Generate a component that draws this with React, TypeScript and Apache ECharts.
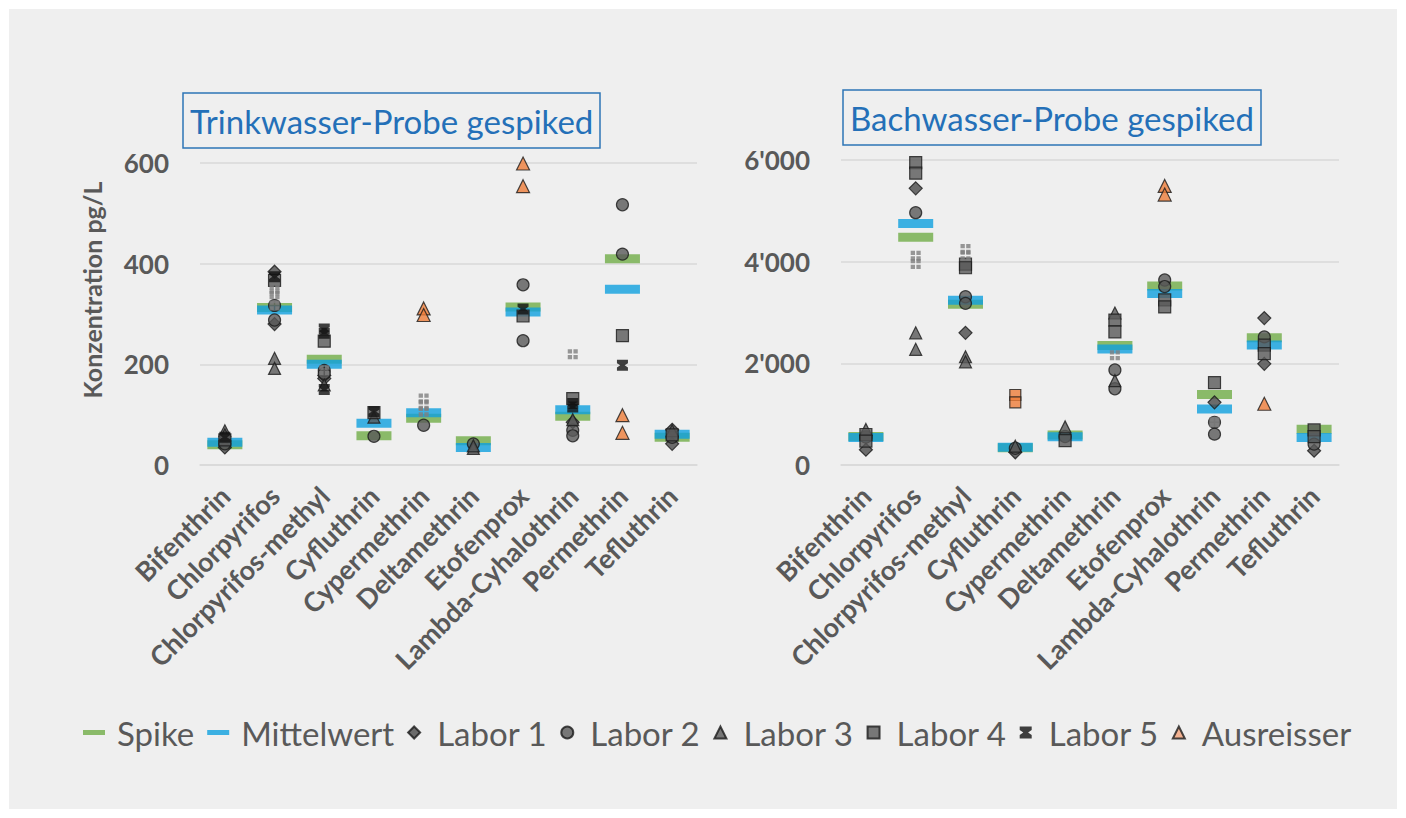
import React, { useEffect, useRef } from "react";
import * as echarts from "echarts";

const categories = [
  "Bifenthrin",
  "Chlorpyrifos",
  "Chlorpyrifos-methyl",
  "Cyfluthrin",
  "Cypermethrin",
  "Deltamethrin",
  "Etofenprox",
  "Lambda-Cyhalothrin",
  "Permethrin",
  "Tefluthrin",
];

const twTicks = [0, 200, 400, 600];
const bwTicks = [0, 2000, 4000, 6000];

// Trinkwasser-Probe (pg/L)
const twSpike = [40, 313, 210, 58, 93, 48, 314, 97, 410, 55];
const twMittelwert = [45, 308, 200, 83, 104, 35, 304, 110, 349, 61];
const twLabor1 = [[35], [384, 280], [172, 178], [], [], [], [], [85], [], [70, 42]];
const twLabor2 = [[42], [317, 288], [188, 182], [57], [79], [42], [358, 247], [69, 58], [517, 419], [55]];
const twLabor3 = [[68, 60], [212, 192], [159], [95], [], [33, 38], [], [90], [], [68]];
const twLabor4 = [[50], [367], [246], [104], [], [], [296], [132], [257], [60]];
const twLabor5 = [[55], [374], [270, 262, 150], [106], [], [], [310], [122, 115], [198], []];
const twLabor5b = [[], [347, 339, 317], [188], [], [132, 119, 106], [], [], [220], [], []];
const twAusreisser = [[], [], [], [], [311, 298], [], [599, 554], [], [99, 64], []];
const twAusreisserForm = ["triangle", "triangle", "triangle", "triangle", "triangle", "triangle", "triangle", "triangle", "triangle", "triangle"];

// Bachwasser-Probe (pg/L)
const bwSpike = [560, 4480, 3160, 340, 590, 2350, 3520, 1385, 2505, 705];
const bwMittelwert = [540, 4750, 3240, 350, 557, 2280, 3376, 1100, 2360, 540];
const bwLabor1 = [[300], [5442], [2600], [250], [], [], [], [1233], [2890, 1990], [280]];
const bwLabor2 = [[550], [4964], [3310, 3180], [330], [560], [1870, 1500], [3640, 3510], [840, 607], [2520], [410]];
const bwLabor3 = [[700], [2600, 2275], [2130, 2030], [370], [750], [2990, 1660], [], [], [], []];
const bwLabor4 = [[600, 470], [5950, 5740], [3950, 3880], [], [480], [2850, 2620], [3250, 3110], [1620], [2360, 2190], [690, 560]];
const bwLabor5 = [[], [], [], [], [], [], [], [], [], []];
const bwLabor5b = [[], [4118, 3954], [4250, 4120], [], [], [2160], [], [840], [], []];
const bwAusreisser = [[], [], [], [1377, 1233], [], [], [5490, 5320], [], [1205], []];
const bwAusreisserForm = ["triangle", "triangle", "triangle", "rect", "triangle", "triangle", "triangle", "triangle", "triangle", "triangle"];

const FONT = "Lato";
const GREY_TEXT = "#595959";
const STAR = "path://M0,0H10V3L7,5L10,7V10H0V7L3,5L0,3Z";
const QUAD = "path://M0,0H4.3V4.3H0Z M5.7,0H10V4.3H5.7Z M0,5.7H4.3V10H0Z M5.7,5.7H10V10H5.7Z";

function flat(vals: number[][]) {
  const out: any[] = [];
  vals.forEach((list, i) => list.forEach((v) => out.push([categories[i], v])));
  return out;
}

function flatForm(vals: number[][], forms: string[]) {
  const out: any[] = [];
  vals.forEach((list, i) =>
    list.forEach((v) => out.push({ value: [categories[i], v], symbol: forms[i], symbolSize: forms[i] === "rect" ? 11 : 13 }))
  );
  return out;
}

function single(vals: number[]) {
  return vals.map((v, i) => [categories[i], v]);
}

const markerStyle = (fill: string) => ({ color: fill, borderColor: "#1a1a1a", borderWidth: 1.2 });

function seriesFor(idx: number, d: any) {
  const base = { type: "scatter", xAxisIndex: idx, yAxisIndex: idx };
  return [
    { ...base, name: "Spike", data: single(d.spike), symbol: "rect", symbolSize: [35, 9], itemStyle: { color: "#70AD47" }, z: 2 },
    { ...base, name: "Mittelwert", data: single(d.mean), symbol: "rect", symbolSize: [35, 9], itemStyle: { color: "#0FA0DE" }, z: 3 },
    { ...base, name: "Labor 1", data: flat(d.l1), symbol: "diamond", symbolSize: 13, itemStyle: markerStyle("#4a4a4a"), z: 4 },
    { ...base, name: "Labor 2", data: flat(d.l2), symbol: "circle", symbolSize: 12, itemStyle: markerStyle("#595959"), z: 4 },
    { ...base, name: "Labor 3", data: flat(d.l3), symbol: "triangle", symbolSize: 12, itemStyle: markerStyle("#595959"), z: 4 },
    { ...base, name: "Labor 4", data: flat(d.l4), symbol: "rect", symbolSize: 12, itemStyle: markerStyle("#595959"), z: 4 },
    { ...base, name: "Labor 5", data: flat(d.l5), symbol: STAR, symbolSize: 11, itemStyle: { color: "#111" }, z: 5 },
    { ...base, name: "Labor 5 Wdh.", data: flat(d.l5b), symbol: QUAD, symbolSize: 10, itemStyle: { color: "#7f7f7f" }, z: 5 },
    { ...base, name: "Ausreisser", data: flatForm(d.out, d.outForm), symbol: "triangle", symbolSize: 13, itemStyle: markerStyle("#EE7D3A"), z: 6 },
  ];
}

const apos = (v: number) => String(v).replace(/\B(?=(\d{3})+(?!\d))/g, "'");

export default function App() {
  const ref = useRef<HTMLDivElement>(null);
  useEffect(() => {
    if (!ref.current) return;
    const chart = echarts.init(ref.current, null, { renderer: "svg" });
    const catAxis = (gridIndex: number) => ({
      type: "category",
      gridIndex,
      data: categories,
      boundaryGap: true,
      axisLine: { lineStyle: { color: "#d9d9d9", width: 1.5 } },
      axisTick: { show: false },
      axisLabel: { rotate: 45, interval: 0, fontSize: 27, fontWeight: "bold", color: GREY_TEXT, fontFamily: FONT, margin: 26 },
    });
    const valAxis = (gridIndex: number, ticks: number[], fmt: (v: number) => string) => ({
      type: "value",
      gridIndex,
      min: ticks[0],
      max: ticks[ticks.length - 1],
      interval: ticks[1] - ticks[0],
      axisLine: { show: false },
      axisTick: { show: false },
      splitLine: { lineStyle: { color: "#d9d9d9", width: 1.5 } },
      axisLabel: { fontSize: 26, fontWeight: "bold", color: GREY_TEXT, fontFamily: FONT, margin: 31, formatter: fmt },
    });
    const legendIcon = {
      bar: "path://M0,0H22V5H0Z",
      diamond: "path://M5,0L10,5L5,10L0,5Z",
      tri: "path://M5,0L10,10L0,10Z",
      square: "path://M0,0H10V10H0Z",
    };
    const titleStyle = { color: "#2470B8", fontSize: 33, fontWeight: "normal", fontFamily: FONT, lineHeight: 37 };
    const option: any = {
      animation: false,
      backgroundColor: "transparent",
      title: [
        {
          text: "Trinkwasser-Probe gespiked",
          left: 183,
          top: 93,
          padding: [9, 7, 9, 7],
          borderColor: "#2E75B6",
          borderWidth: 1.5,
          textStyle: titleStyle,
        },
        {
          text: "Bachwasser-Probe gespiked",
          left: 843,
          top: 90,
          padding: [9, 7, 9, 7],
          borderColor: "#2E75B6",
          borderWidth: 1.5,
          textStyle: titleStyle,
        },
      ],
      graphic: [
        {
          type: "text",
          x: 92,
          y: 290,
          rotation: Math.PI / 2,
          style: {
            text: "Konzentration pg/L",
            fill: GREY_TEXT,
            font: `bold 25px ${FONT}`,
            align: "center",
            verticalAlign: "middle",
          },
        },
      ],
      legend: {
        left: 78,
        top: 711,
        itemWidth: 22,
        itemHeight: 12,
        itemGap: 13,
        textStyle: { fontSize: 33, color: GREY_TEXT, fontFamily: FONT, padding: [0, 0, 0, 7] },
        data: [
          { name: "Spike", icon: legendIcon.bar },
          { name: "Mittelwert", icon: legendIcon.bar },
          { name: "Labor 1", icon: legendIcon.diamond },
          { name: "Labor 2", icon: "circle" },
          { name: "Labor 3", icon: legendIcon.tri },
          { name: "Labor 4", icon: legendIcon.square },
          { name: "Labor 5", icon: STAR },
          { name: "Ausreisser", icon: legendIcon.tri, itemStyle: { color: "#F4A37A" } },
        ],
      },
      grid: [
        { left: 200, top: 163, width: 497, height: 302 },
        { left: 841, top: 160, width: 498, height: 305 },
      ],
      xAxis: [catAxis(0), catAxis(1)],
      yAxis: [valAxis(0, twTicks, (v: number) => String(v)), valAxis(1, bwTicks, apos)],
      series: [
        ...seriesFor(0, {
          spike: twSpike, mean: twMittelwert, l1: twLabor1, l2: twLabor2, l3: twLabor3, l4: twLabor4,
          l5: twLabor5, l5b: twLabor5b, out: twAusreisser, outForm: twAusreisserForm,
        }),
        ...seriesFor(1, {
          spike: bwSpike, mean: bwMittelwert, l1: bwLabor1, l2: bwLabor2, l3: bwLabor3, l4: bwLabor4,
          l5: bwLabor5, l5b: bwLabor5b, out: bwAusreisser, outForm: bwAusreisserForm,
        }),
      ],
    };
    chart.setOption(option);
    return () => chart.dispose();
  }, []);
  return (
    <div style={{ position: "absolute", left: 0, top: 0, width: 1406, height: 818, background: "#ffffff" }}>
      <div style={{ position: "absolute", left: 9, top: 9, width: 1388, height: 800, background: "#efefef" }} />
      <div ref={ref} style={{ position: "absolute", left: 0, top: 0, width: 1406, height: 818 }} />
    </div>
  );
}
